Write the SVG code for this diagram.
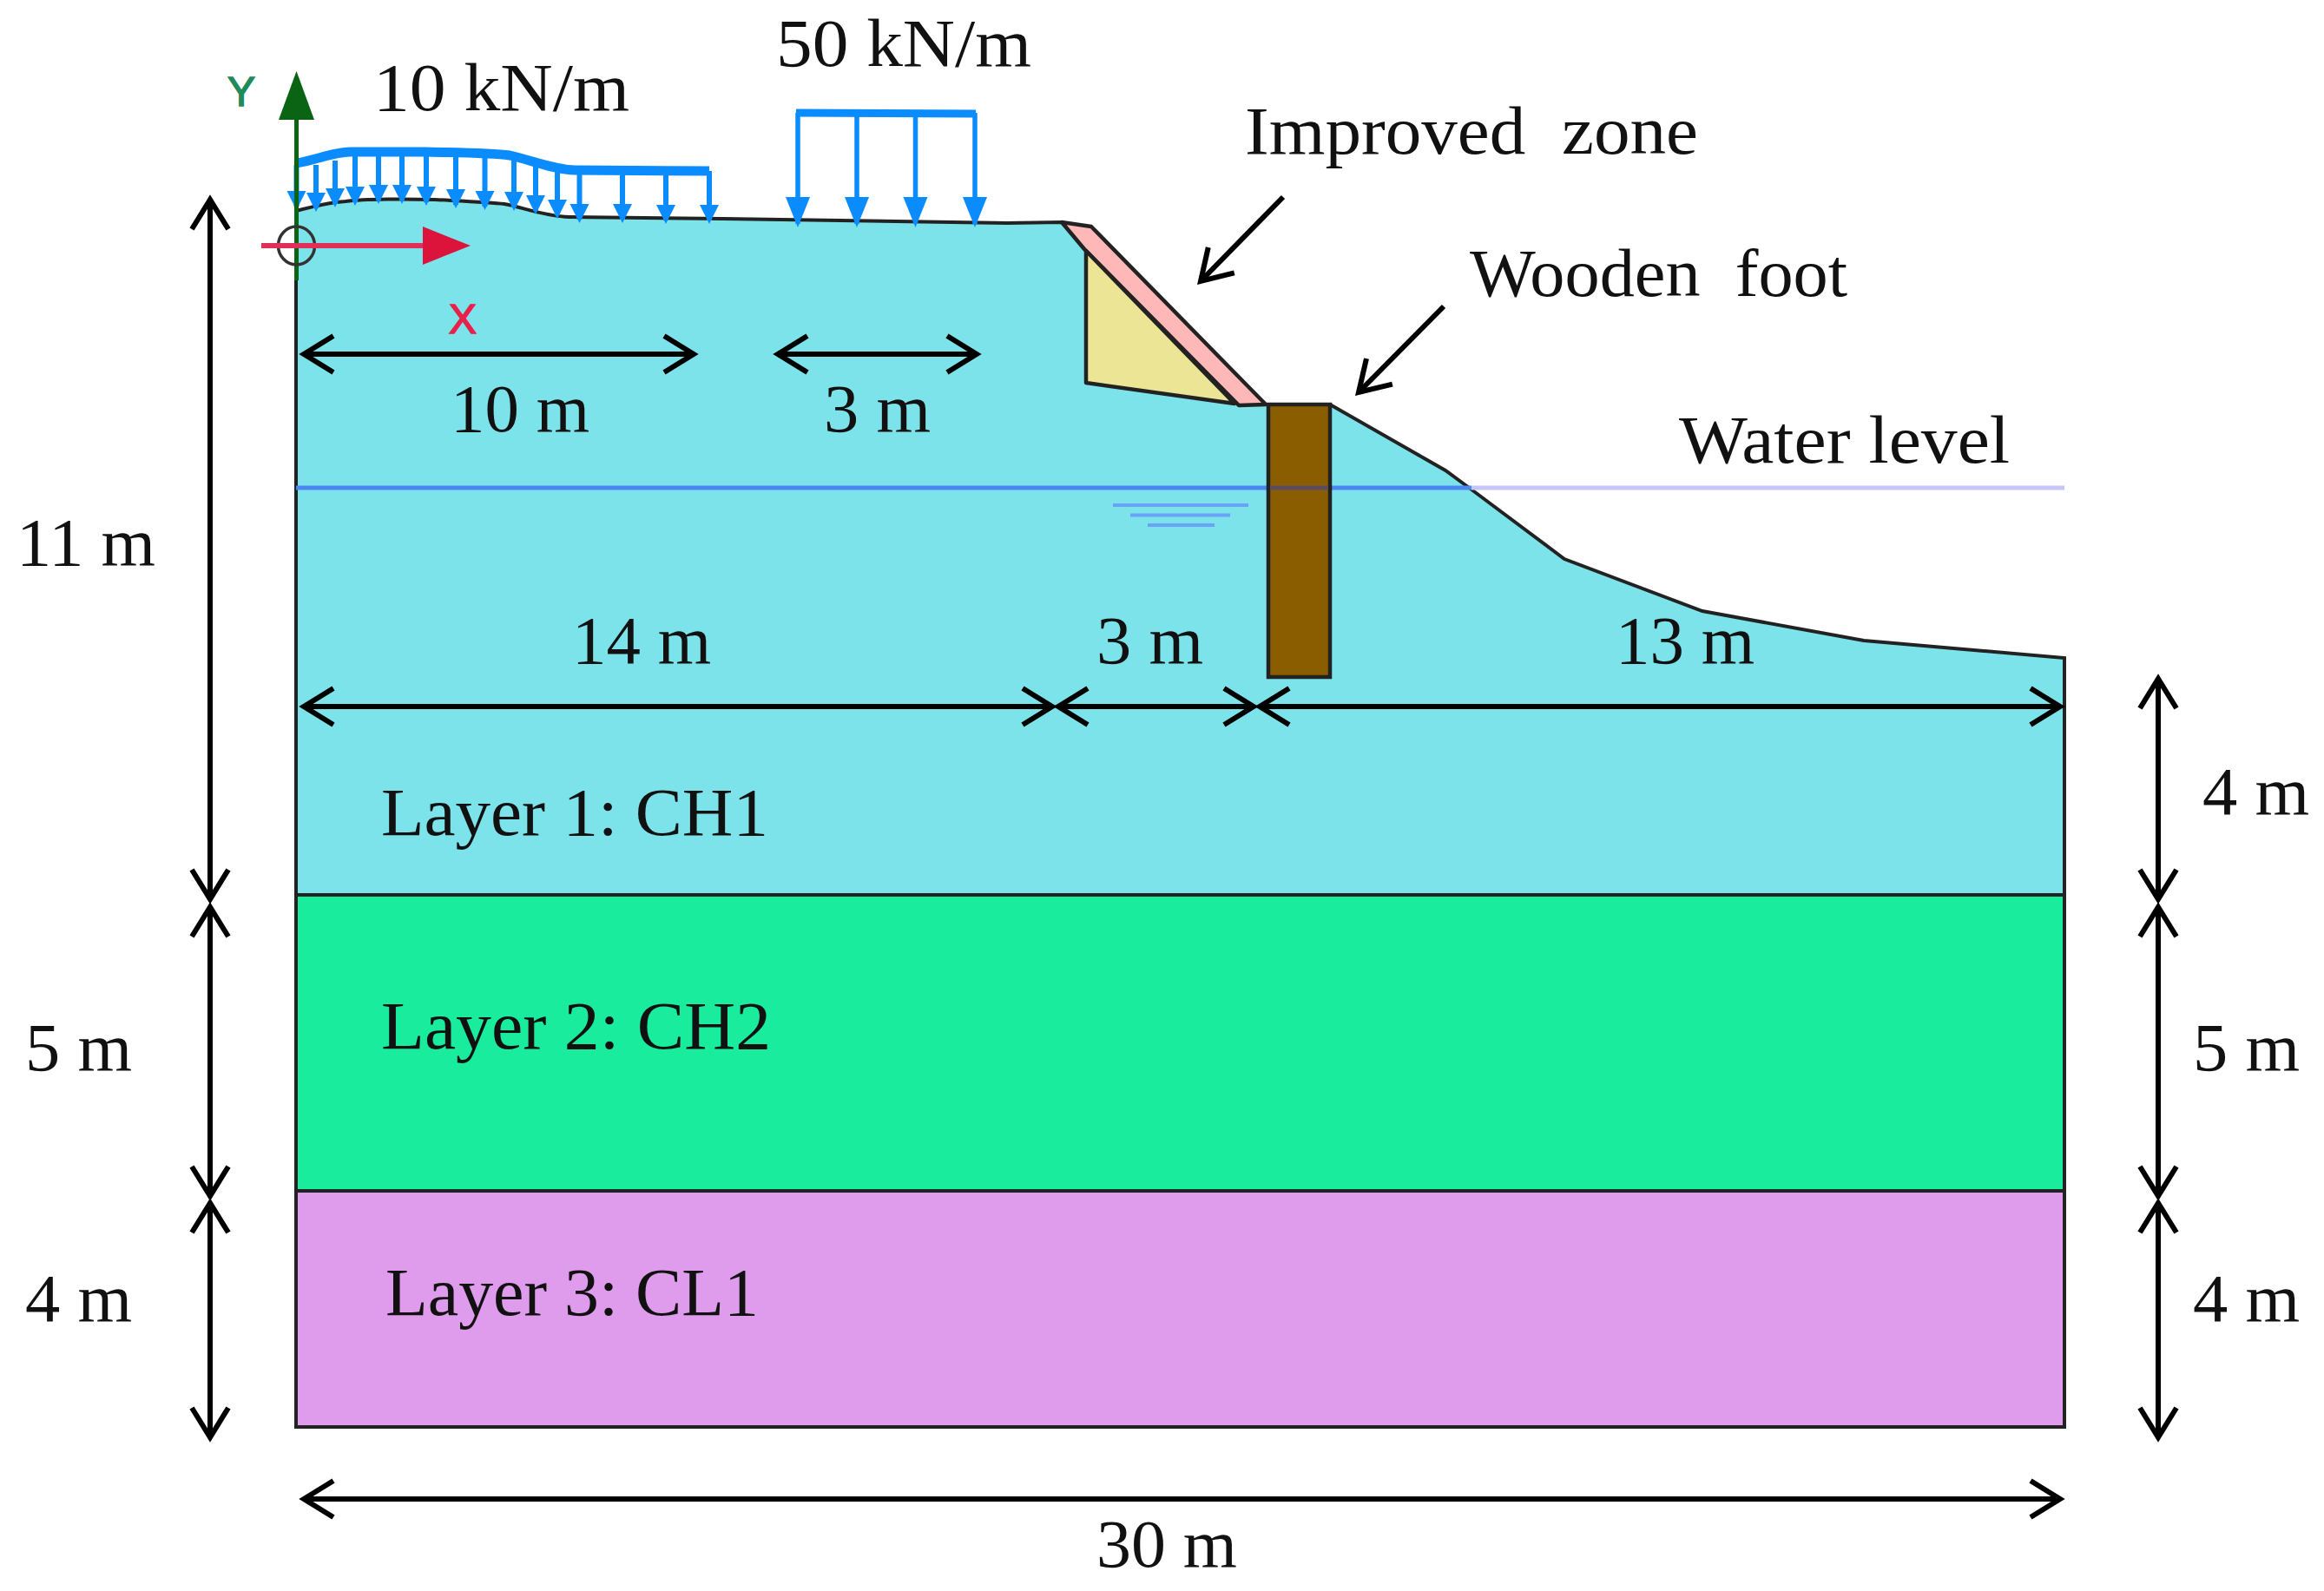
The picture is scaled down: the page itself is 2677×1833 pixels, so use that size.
<svg xmlns="http://www.w3.org/2000/svg" width="2677" height="1833" viewBox="0 0 2677 1833">
<style>
text{font-family:"Liberation Serif","Times New Roman",serif;font-size:78px;fill:#111;white-space:pre}
.ax{font-family:"Liberation Sans",Arial,sans-serif;font-size:48px;stroke-width:1.5}
.soil{stroke:#222;stroke-width:4}
.dim{fill:none;stroke:#000;stroke-width:6;marker-start:url(#open);marker-end:url(#open)}
.call{fill:none;stroke:#000;stroke-width:6;marker-end:url(#open)}
.load{fill:none;stroke:#0a8cff;stroke-width:6;marker-end:url(#sm)}
.load2{fill:none;stroke:#0a8cff;stroke-width:5.500;marker-end:url(#lg)}
.wl{fill:none;stroke:#6aa4f8;stroke-width:4}
</style>
<defs>
<marker id="open" markerUnits="userSpaceOnUse" viewBox="-42 -26 50 52" markerWidth="50" markerHeight="52" refX="0" refY="0" orient="auto-start-reverse"><path d="M-34,-21 L0,0 L-34,21" fill="none" stroke="#000" stroke-width="6"/></marker>
<marker id="sm" markerUnits="userSpaceOnUse" viewBox="-24 -15 34 30" markerWidth="34" markerHeight="30" refX="0" refY="0" orient="auto"><path d="M-18,-11 L4,0 L-18,11 Z" fill="#0a8cff"/></marker>
<marker id="lg" markerUnits="userSpaceOnUse" viewBox="-40 -20 50 40" markerWidth="50" markerHeight="40" refX="0" refY="0" orient="auto"><path d="M-31,-14 L4,0 L-31,14 Z" fill="#0a8cff"/></marker>
</defs>
<rect width="2677" height="1833" fill="#fff"/>
<g id="layer1"><path class="soil" fill="#7de3ea" d="M341,1031 L341,243 C360,238 380,233 398,232 C420,229 470,229 501,230 C540,232 565,233 581,235 C600,238 625,249 656,250 L834,252 L1160,257 L1223,256 L1458,466 L1532,466 L1665,542 L1695,564 L1802,644 L1961,704 L2147,738 L2378,758 L2378,1031 Z"/></g>
<g id="layer2"><rect class="soil" x="341" y="1031" width="2037" height="341" fill="#1aec9e"/></g>
<g id="layer3"><rect class="soil" x="341" y="1372" width="2037" height="272" fill="#df9bec"/></g>
<g id="improved-zone">
<path d="M1223,256 L1257,261 L1458,466 L1427,467 L1249,287 Z" fill="#ffb8b8" stroke="#222" stroke-width="4.500" stroke-linejoin="round"/>
<path d="M1251,289 L1422,465 L1251,441 Z" fill="#ece596" stroke="#222" stroke-width="4.500" stroke-linejoin="round"/>
</g>
<g id="water-level">
<path d="M341,562 H1695" fill="none" stroke="#4c86f0" stroke-width="5"/>
<path d="M1695,562 H2378" fill="none" stroke="#c6c6fb" stroke-width="5"/>
<path class="wl" d="M1282,582 H1438 M1302,593.500 H1417 M1322,605 H1399"/>
</g>
<g id="wooden-foot">
<rect x="1461" y="466" width="71" height="314" fill="#8a5e00" stroke="#222" stroke-width="4.500"/>
<path d="M1463,562 H1530" stroke="#5c4c60" stroke-width="5"/>
</g>
<g id="load-10">
<path d="M341.500,188 C365,184 385,175 403,175 L490,175 C530,176 565,176 587,179 C610,184 640,196 662,196 L817,197" fill="none" stroke="#0a8cff" stroke-width="11" stroke-linejoin="round"/>
<path class="load" d="M364,190 V240"/><path class="load" d="M386,185 V235"/><path class="load" d="M409,178 V233"/><path class="load" d="M436,178 V231"/><path class="load" d="M463,178 V231"/><path class="load" d="M491,178 V233"/><path class="load" d="M525,178 V236"/><path class="load" d="M558.500,180 V238"/><path class="load" d="M592,182 V239"/><path class="load" d="M617,187 V243"/><path class="load" d="M642,193 V248"/><path class="load" d="M667.500,197 V253"/><path class="load" d="M717,197 V253"/><path class="load" d="M767,197 V254"/><path class="load" d="M817,197 V254"/>
<path class="load" d="M341.500,190 V238"/>
</g>
<g id="load-50">
<path d="M917,130 L1124,131" fill="none" stroke="#0a8cff" stroke-width="9"/>
<path class="load2" d="M919,130 V258"/><path class="load2" d="M987,130 V258"/><path class="load2" d="M1054.500,130 V258"/><path class="load2" d="M1123,130 V258"/>
</g>
<g id="axes">
<path d="M341.500,323 V130" stroke="#0a6414" stroke-width="5" fill="none"/>
<path d="M341.500,82 L362,138 L321,138 Z" fill="#0a6414"/>
<ellipse cx="341.500" cy="283" rx="21" ry="22" fill="none" stroke="#333" stroke-width="3.500"/>
<path d="M301,283 H490" stroke="#e0305a" stroke-width="6" fill="none"/>
<path d="M487,261 L542,283 L487,305 Z" fill="#dc143c"/>
<text class="ax" x="262" y="122" style="fill:#1f8a5a;stroke:#1f8a5a">Y</text>
<text class="ax" x="517" y="384" style="fill:#e8204a;stroke:#e8204a">X</text>
</g>
<g id="connectors">
<path class="dim" d="M350,408 H799"/><path class="dim" d="M896,408 H1125"/>
<path class="dim" d="M350,814 H1212"/><path class="dim" d="M1219,814 H1444"/><path class="dim" d="M1451,814 H2373"/>
<path class="dim" d="M350,1727 H2373"/>
<path class="dim" d="M242,230 V1036"/><path class="dim" d="M242,1045 V1378"/><path class="dim" d="M242,1386 V1656"/>
<path class="dim" d="M2486,782 V1036"/><path class="dim" d="M2486,1045 V1378"/><path class="dim" d="M2486,1386 V1656"/>
<path class="call" d="M1478,227 L1383,324"/><path class="call" d="M1663,353 L1565,452"/>
</g>
<g id="labels">
<text x="430" y="127" textLength="295" lengthAdjust="spacingAndGlyphs">10 kN/m</text>
<text x="894" y="76" textLength="294" lengthAdjust="spacingAndGlyphs">50 kN/m</text>
<text x="1434" y="177" textLength="522" lengthAdjust="spacingAndGlyphs">Improved  zone</text>
<text x="1693" y="341" textLength="435" lengthAdjust="spacingAndGlyphs">Wooden  foot</text>
<text x="1934" y="533" textLength="381" lengthAdjust="spacingAndGlyphs">Water level</text>
<text x="519" y="497" textLength="160" lengthAdjust="spacingAndGlyphs">10 m</text>
<text x="949" y="497" textLength="123" lengthAdjust="spacingAndGlyphs">3 m</text>
<text x="19" y="651" textLength="160" lengthAdjust="spacingAndGlyphs">11 m</text>
<text x="659" y="764" textLength="160" lengthAdjust="spacingAndGlyphs">14 m</text>
<text x="1263" y="764" textLength="123" lengthAdjust="spacingAndGlyphs">3 m</text>
<text x="1861" y="764" textLength="160" lengthAdjust="spacingAndGlyphs">13 m</text>
<text x="439" y="962" textLength="446" lengthAdjust="spacingAndGlyphs">Layer 1: CH1</text>
<text x="439" y="1208" textLength="449" lengthAdjust="spacingAndGlyphs">Layer 2: CH2</text>
<text x="444" y="1515" textLength="430" lengthAdjust="spacingAndGlyphs">Layer 3: CL1</text>
<text x="29" y="1233" textLength="123" lengthAdjust="spacingAndGlyphs">5 m</text>
<text x="29" y="1522" textLength="123" lengthAdjust="spacingAndGlyphs">4 m</text>
<text x="2537" y="938" textLength="123" lengthAdjust="spacingAndGlyphs">4 m</text>
<text x="2526" y="1233" textLength="123" lengthAdjust="spacingAndGlyphs">5 m</text>
<text x="2526" y="1522" textLength="123" lengthAdjust="spacingAndGlyphs">4 m</text>
<text x="1263" y="1805" textLength="162" lengthAdjust="spacingAndGlyphs">30 m</text>
</g>
</svg>
